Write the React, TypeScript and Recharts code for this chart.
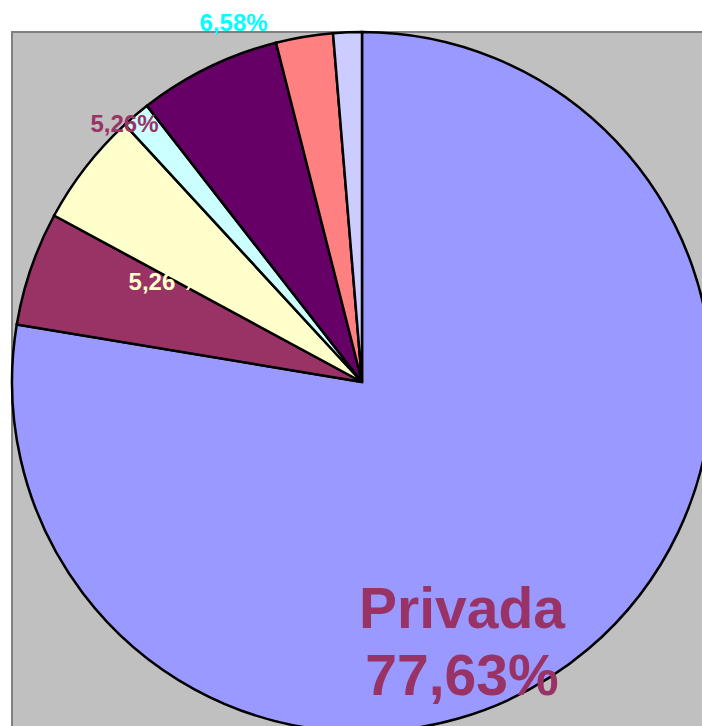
import { PieChart, Pie, Cell } from 'recharts'

const names = ['Privada', 'Grupo 2', 'Grupo 3', 'Grupo 4', 'Grupo 5', 'Grupo 6', 'Grupo 7']
const shares = [77.63, 5.26, 5.26, 1.32, 6.58, 2.63, 1.32]
const colors = ['#9999FF', '#993366', '#FFFFCC', '#CCFFFF', '#660066', '#FF8080', '#CCCCFF']
const labelTexts = ['77,63%', '5,26 %', '5,26%', '', '6,58%', '', '']

const data = names.map((name, i) => ({ name, value: shares[i] }))

// label placement: radius factor and angle shift from the slice middle
const labelPos: Record<number, { r: number; shift: number; color: string; size: number }> = {
  0: { r: 0.706, shift: -16.4, color: '#993366', size: 57 },
  1: { r: 0.63, shift: -8.3, color: '#FFFFCC', size: 24 },
  2: { r: 1.002, shift: -9.5, color: '#993366', size: 24 },
  4: { r: 1.09, shift: -6.4, color: '#00FFFF', size: 24 },
}

const RAD = Math.PI / 180

function renderLabel(props: any) {
  const { cx, cy, midAngle, outerRadius, index } = props
  const pos = labelPos[index]
  if (!pos) return null
  const a = (midAngle + pos.shift) * RAD
  const x = cx + outerRadius * pos.r * Math.cos(a)
  const y = cy - outerRadius * pos.r * Math.sin(a)
  const style = {
    fontFamily: '"Liberation Sans", Arial, sans-serif',
    fontWeight: 700,
    fontSize: pos.size,
  }
  if (index === 0) {
    return (
      <text x={x} y={y} fill={pos.color} textAnchor="middle" dominantBaseline="central" style={style}>
        <tspan x={x} y={y}>{names[0]}</tspan>
        <tspan x={x} y={y + 67}>{labelTexts[0]}</tspan>
      </text>
    )
  }
  return (
    <text x={x} y={y} fill={pos.color} textAnchor="middle" dominantBaseline="central" style={style}>
      {labelTexts[index]}
    </text>
  )
}

export default function App() {
  return (
    <div style={{ position: 'absolute', left: 0, top: 0, width: 702, height: 726, overflow: 'hidden', background: '#fff' }}>
      <div
        style={{
          position: 'absolute',
          left: 11,
          top: 31,
          width: 760,
          height: 760,
          background: '#C0C0C0',
          border: '2px solid #808080',
        }}
      />
      <div style={{ position: 'absolute', left: 0, top: 0 }}>
        <PieChart width={702} height={726} margin={{ top: 0, right: 0, bottom: 0, left: 0 }}>
          <Pie
            data={data}
            dataKey="value"
            nameKey="name"
            cx={362}
            cy={382}
            outerRadius={350}
            startAngle={90}
            endAngle={-270}
            stroke="#000"
            strokeWidth={2.5}
            labelLine={false}
            label={renderLabel}
            isAnimationActive={false}
          >
            {data.map((d, i) => (
              <Cell key={d.name} fill={colors[i]} />
            ))}
          </Pie>
        </PieChart>
      </div>
    </div>
  )
}
